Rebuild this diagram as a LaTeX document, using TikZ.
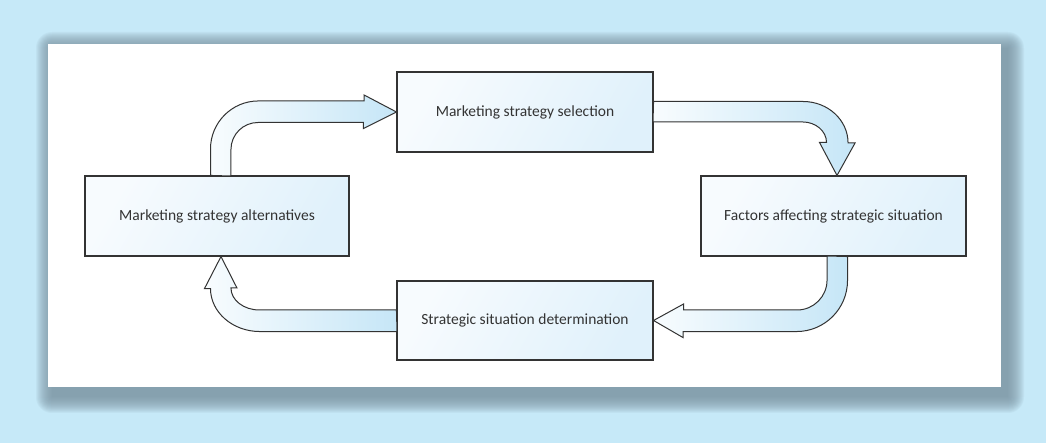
\documentclass[tikz,border=0pt]{standalone}
\usepackage{fontspec}
\setmainfont{Carlito}
\usetikzlibrary{positioning}

\definecolor{bgblue}{HTML}{C6E9F8}
\definecolor{shadowgray}{HTML}{7A93A1}
\definecolor{boxlight}{HTML}{F7FBFE}
\definecolor{boxdark}{HTML}{E0F1FB}
\definecolor{arrowlight}{HTML}{F8FCFE}
\definecolor{arrowdark}{HTML}{C6E6F7}
\definecolor{edgegray}{HTML}{333333}

\begin{document}
\begin{tikzpicture}[%
    x=1pt, y=1pt,
    stagebox/.style={
        draw=edgegray,
        line width=1.1pt,
        left color=boxlight,
        right color=boxdark,
        shading angle=60,
        minimum height=80pt,
        inner sep=0pt,
        text=edgegray,
        font=\fontsize{15.5}{18}\selectfont
        },
    bentarrow/.style={
        draw=edgegray,
        line width=1pt,
        line join=miter,
        left color=arrowlight,
        right color=arrowdark
        }
]

% background, shadow and panel
\fill[bgblue] (0,0) rectangle (1046,443);
\useasboundingbox (0,0) rectangle (1046,443);
\foreach \k in {0,...,16}
    \fill[shadowgray, opacity=0.085, rounded corners=\k pt]
        ({52-\k},{46-\k}) rectangle ({1008+\k},{395+\k});
\fill[white] (48,56) rectangle (1001,399);

% stages
\node[stagebox, minimum width=256pt] (select) at (525,331) {Marketing strategy selection};
\node[stagebox, minimum width=264pt] (altern) at (217,227) {Marketing strategy alternatives};
\node[stagebox, minimum width=265pt] (factors) at (833.5,227) {Factors affecting strategic situation};
\node[stagebox, minimum width=256pt, minimum height=79pt] (determ) at (525,122.5) {Strategic situation determination};

% bent arrows
\draw[bentarrow] ([xshift=-6.5pt]altern.north) -- ++(0,26.5)
    arc[start angle=180, end angle=90, radius=48pt] -- ++(105.5,0) -- ++(0,6)
    -- (select.west) -- ++(-33,-16.5) -- ++(0,6) -- ++(-105.5,0)
    arc[start angle=90, end angle=180, radius=27pt] -- ++(0,-26.5) -- cycle;

\draw[bentarrow] ([yshift=10.5pt]select.east) -- ++(149.5,0)
    arc[start angle=90, end angle=0, x radius=45pt, y radius=41.5pt] -- ++(7,0)
    -- ([xshift=3.5pt]factors.north) -- ++(-17.5,33) -- ++(7,0)
    arc[start angle=0, end angle=90, x radius=24pt, y radius=20.5pt] -- ++(-149.5,0) -- cycle;

\draw[bentarrow] ([xshift=14pt]factors.south) -- ++(0,-24)
    arc[start angle=0, end angle=-90, radius=51pt] -- ++(-113.5,0) -- ++(0,-6)
    -- (determ.east) -- ++(30,16.5) -- ++(0,-6) -- ++(113.5,0)
    arc[start angle=-90, end angle=0, radius=30pt] -- ++(0,24) -- cycle;

\draw[bentarrow] ([yshift=10.5pt]determ.west) -- ++(-137,0)
    arc[start angle=-90, end angle=-180, x radius=28.5pt, y radius=22pt] -- ++(6,0)
    -- ([xshift=4pt]altern.south) -- ++(-16.5,-32) -- ++(6,0)
    arc[start angle=180, end angle=270, x radius=49.5pt, y radius=43pt] -- ++(137,0) -- cycle;

\end{tikzpicture}
\end{document}
